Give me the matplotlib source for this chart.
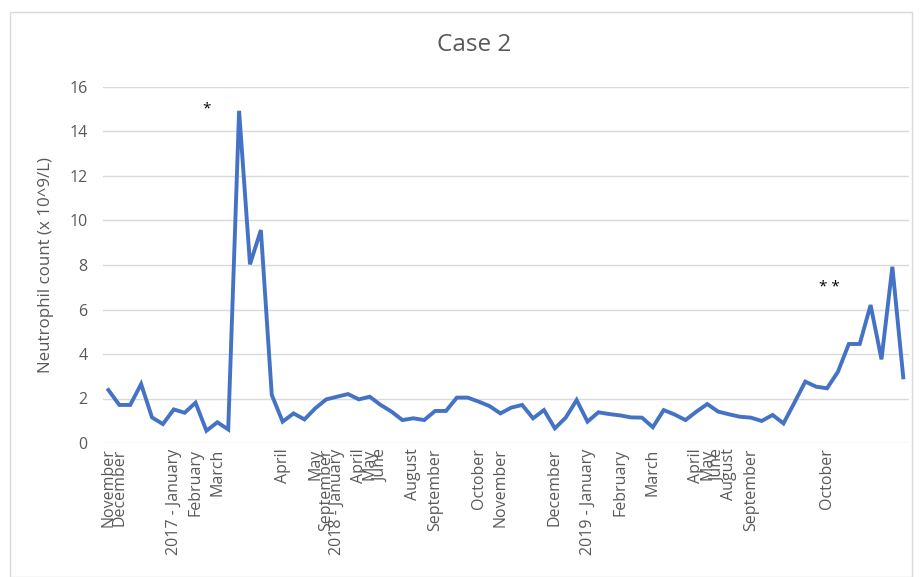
import matplotlib.pyplot as plt
from matplotlib.patches import Rectangle

# neutrophil count per sample (x 10^9/L)
values = [2.38, 1.71, 1.71, 2.65, 1.15, 0.85, 1.51, 1.36, 1.81, 0.55,
          0.93, 0.61, 14.93, 8.03, 9.57, 2.16, 0.96, 1.33, 1.06, 1.56,
          1.96, 2.08, 2.2, 1.96, 2.08, 1.71, 1.41, 1.03, 1.11, 1.03,
          1.44, 1.44, 2.04, 2.04, 1.86, 1.66, 1.33, 1.59, 1.71, 1.11,
          1.48, 0.66, 1.14, 1.93, 0.96, 1.38, 1.3, 1.24, 1.15, 1.14,
          0.71, 1.48, 1.28, 1.03, 1.41, 1.75, 1.41, 1.29, 1.18, 1.14,
          0.99, 1.26, 0.88, 1.81, 2.76, 2.53, 2.46, 3.2, 4.45, 4.45,
          6.2, 3.76, 7.92, 2.95]

# sample index -> month label (other samples have no label)
label_pos = [0, 1, 6, 8, 10, 16, 19, 20, 21, 23, 24, 25, 28, 30, 34, 36,
             41, 44, 47, 50, 54, 55, 56, 57, 59, 66]
label_text = ['November', 'December', '2017 - January', 'February', 'March',
              'April', 'May', 'September', '2018 - January', 'April', 'May',
              'June', 'August', 'September', 'October', 'November', 'December',
              '2019 - January', 'February', 'March', 'April', 'May', 'June',
              'August', 'September', 'October']

y_ticks = [0, 2, 4, 6, 8, 10, 12, 14, 16]

# asterisk notes: (sample index, y value, text)
notes = [(9, 15.0, '*'), (66.2, 7.0, '* *')]

plt.rcParams['font.family'] = ['Open Sans', 'DejaVu Sans']
grey = '#595959'

W, H = 922, 577
fig = plt.figure(figsize=(W / 100, H / 100), dpi=100)
fig.patches.append(Rectangle((10 / W, 0), 902 / W, 1 - 12 / H, transform=fig.transFigure,
                             fill=False, edgecolor='#d9d9d9', linewidth=1))

ax = fig.add_axes([103 / W, 134 / H, (908.7 - 103) / W, (443 - 87) / H])
x = list(range(len(values)))
ax.plot(x, values, color='#4472C4', linewidth=2.8, solid_joinstyle='miter')

ax.set_xlim(-0.5, len(values) - 0.5)
ax.set_ylim(0, 16)
ax.set_yticks(y_ticks)
ax.set_xticks(label_pos)
ax.set_xticklabels(label_text, rotation=90, va='top', ha='center')
ax.tick_params(axis='both', length=0, colors=grey, labelsize=11.5)
ax.tick_params(axis='x', pad=4)
ax.tick_params(axis='y', pad=11)
ax.grid(axis='y', color='#d9d9d9', linewidth=1)
ax.set_axisbelow(True)
for s in ax.spines.values():
    s.set_visible(False)

ax.set_ylabel('Neutrophil count (x 10^9/L)', color=grey, fontsize=12.2, labelpad=11)
fig.text(474 / W, 1 - 45 / H, 'Case 2', ha='center', va='center', color=grey, fontsize=17.5)

for nx, ny, txt in notes:
    ax.text(nx, ny, txt, ha='center', va='center', fontsize=11, color='black')

fig.savefig('out.png', dpi=100)
